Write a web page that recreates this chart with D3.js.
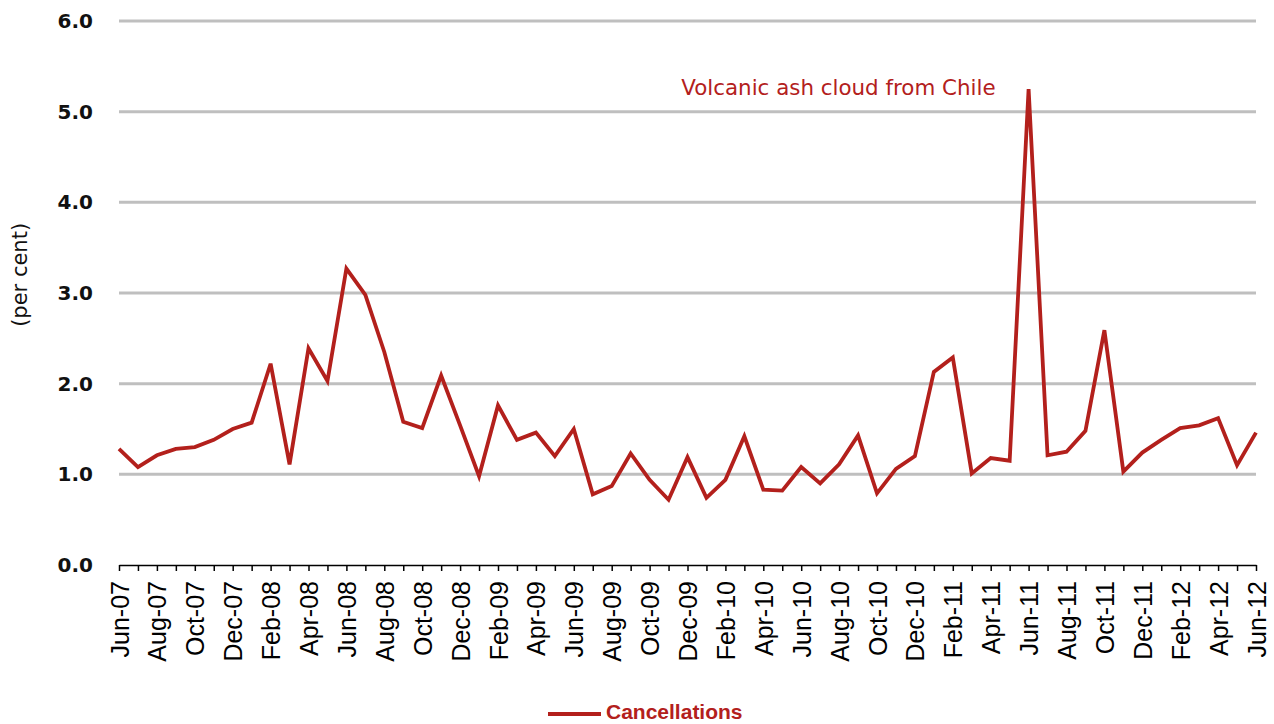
<!DOCTYPE html>
<html>
<head>
<meta charset="utf-8">
<script src="https://cdn.jsdelivr.net/npm/d3@7"></script>
<style>
  body { margin: 0; background: #fff; }
  svg { display: block; }
</style>
</head>
<body>
<svg id="chart" width="1274" height="724"></svg>
<script>
// monthly series, Jun-07 .. Jun-12
const months = ['Jun-07', 'Jul-07', 'Aug-07', 'Sep-07', 'Oct-07', 'Nov-07', 'Dec-07',
  'Jan-08', 'Feb-08', 'Mar-08', 'Apr-08', 'May-08', 'Jun-08', 'Jul-08', 'Aug-08', 'Sep-08', 'Oct-08', 'Nov-08', 'Dec-08',
  'Jan-09', 'Feb-09', 'Mar-09', 'Apr-09', 'May-09', 'Jun-09', 'Jul-09', 'Aug-09', 'Sep-09', 'Oct-09', 'Nov-09', 'Dec-09',
  'Jan-10', 'Feb-10', 'Mar-10', 'Apr-10', 'May-10', 'Jun-10', 'Jul-10', 'Aug-10', 'Sep-10', 'Oct-10', 'Nov-10', 'Dec-10',
  'Jan-11', 'Feb-11', 'Mar-11', 'Apr-11', 'May-11', 'Jun-11', 'Jul-11', 'Aug-11', 'Sep-11', 'Oct-11', 'Nov-11', 'Dec-11',
  'Jan-12', 'Feb-12', 'Mar-12', 'Apr-12', 'May-12', 'Jun-12']

const cancellations = [1.28, 1.08, 1.21, 1.28, 1.30, 1.38, 1.50,
  1.57, 2.22, 1.11, 2.39, 2.03, 3.27, 2.98, 2.35, 1.58, 1.51, 2.09, 1.54,
  0.98, 1.76, 1.38, 1.46, 1.20, 1.50, 0.78, 0.87, 1.23, 0.94, 0.72, 1.19,
  0.74, 0.94, 1.42, 0.83, 0.82, 1.08, 0.90, 1.11, 1.43, 0.79, 1.06, 1.20,
  2.13, 2.29, 1.01, 1.18, 1.15, 5.25, 1.21, 1.25, 1.48, 2.59, 1.03, 1.24,
  1.38, 1.51, 1.54, 1.62, 1.10, 1.46]

const yTicks = [0, 1, 2, 3, 4, 5, 6]
const annotation = { month: 'Jun-11', text: 'Volcanic ash cloud from Chile' }
const seriesName = 'Cancellations'

const red = '#b3201c'
const margin = { top: 21, right: 18, bottom: 159, left: 119 }
const width = 1274
const height = 724

const svg = d3.select('#chart')

let x = d3.scalePoint()
    .domain(months)
    .range([margin.left, width - margin.right])

let y = d3.scaleLinear()
    .domain([0, 6])
    .range([height - margin.bottom, margin.top])

// gridlines
svg.append('g')
    .selectAll('line')
    .data(yTicks.filter(d => d > 0))
    .join('line')
    .attr('x1', margin.left)
    .attr('x2', width - margin.right)
    .attr('y1', d => y(d))
    .attr('y2', d => y(d))
    .attr('stroke', '#bfbfbf')
    .attr('stroke-width', 3)

// y axis labels
let yAxis = svg.append('g')
    .attr('transform', `translate(${margin.left - 23},0)`)
    .call(d3.axisLeft(y).tickValues(yTicks).tickFormat(d3.format('.1f')).tickSize(0))
yAxis.select('.domain').remove()
yAxis.selectAll('text')
    .attr('font-family', 'DejaVu Sans')
    .attr('font-weight', 'bold')
    .attr('font-size', 20)
    .attr('fill', '#111')

svg.append('text')
    .attr('transform', `translate(27,${y(3.2)}) rotate(-90)`)
    .attr('text-anchor', 'middle')
    .attr('font-family', 'DejaVu Sans')
    .attr('font-size', 21)
    .attr('fill', '#111')
    .text('(per cent)')

// x axis
let xAxis = svg.append('g')
    .attr('transform', `translate(0,${y(0)})`)
    .call(d3.axisBottom(x).tickSize(6).tickSizeOuter(0)
        .tickFormat((d, i) => i % 2 === 0 ? d : ''))
xAxis.select('.domain').attr('stroke', '#000').attr('stroke-width', 1.5)
xAxis.selectAll('.tick line').attr('stroke', '#000').attr('stroke-width', 1.5)
xAxis.selectAll('text')
    .attr('font-family', 'Liberation Sans, Arial, sans-serif')
    .attr('font-size', 25)
    .attr('fill', '#000')
    .attr('text-anchor', 'end')
    .attr('transform', 'rotate(-90)')
    .attr('x', -16)
    .attr('y', 0)
    .attr('dy', '0.36em')

// line
let line = d3.line()
    .x((d, i) => x(months[i]))
    .y(d => y(d))

svg.append('path')
    .datum(cancellations)
    .attr('d', line)
    .attr('fill', 'none')
    .attr('stroke', red)
    .attr('stroke-width', 3.8)
    .attr('stroke-linejoin', 'miter')

// annotation
svg.append('text')
    .attr('x', x(annotation.month) - 33)
    .attr('y', y(5.2) + 1)
    .attr('text-anchor', 'end')
    .attr('font-family', 'DejaVu Sans')
    .attr('font-size', 21.4)
    .attr('fill', red)
    .text(annotation.text)

// legend
let legend = svg.append('g')
    .attr('transform', 'translate(548,714)')
legend.append('line')
    .attr('x1', 0)
    .attr('x2', 53)
    .attr('stroke', red)
    .attr('stroke-width', 4)
legend.append('text')
    .attr('x', 58)
    .attr('y', 5)
    .attr('font-family', 'Liberation Sans, Arial, sans-serif')
    .attr('font-weight', 'bold')
    .attr('font-size', 21)
    .attr('fill', red)
    .text(seriesName)
</script>
</body>
</html>
